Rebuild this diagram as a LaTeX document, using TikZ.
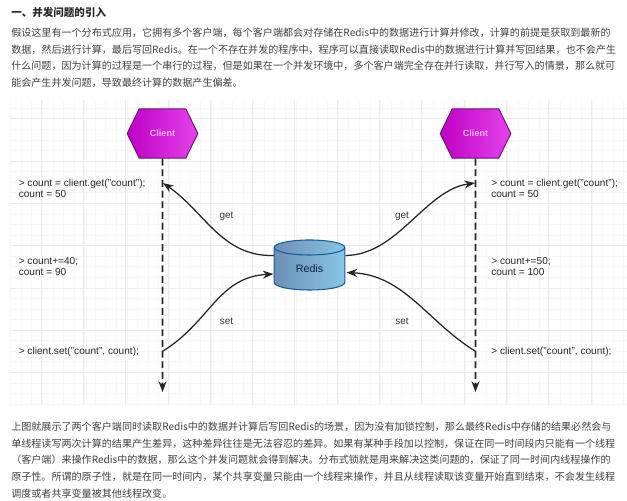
\documentclass[tikz,border=0pt]{standalone}
\usepackage{fontspec}
\usepackage{xcolor}
\usetikzlibrary{arrows.meta,shapes.geometric,shapes.symbols}
\setmainfont{Liberation Sans}
\newfontfamily\cjk{Noto Sans CJK SC}

\definecolor{gridminor}{HTML}{F7F7F7}
\definecolor{gridmajor}{HTML}{ECECEC}
\definecolor{bodytext}{HTML}{404040}
\definecolor{hexleft}{HTML}{BE00C4}
\definecolor{hexright}{HTML}{E444EA}
\definecolor{hexline}{HTML}{6E1076}
\definecolor{hextext}{HTML}{F4B8F8}
\definecolor{dbleft}{HTML}{6C8FB6}
\definecolor{dbright}{HTML}{88C6E6}
\definecolor{dbline}{HTML}{1C5C9E}
\definecolor{dbtext}{HTML}{14253C}

\tikzset{
  para/.style={anchor=north west, inner sep=0pt, align=left, text=bodytext, font=\cjk\fontsize{7.55}{12.55}\selectfont},
  client/.style={shape=signal, signal to=west and east, signal pointer angle=128, draw=hexline, line width=0.7pt,
    left color=hexleft, right color=hexright, minimum width=53pt, minimum height=37pt, inner sep=0pt,
    text=hextext, font=\bfseries\fontsize{6.8}{9}\selectfont},
  store/.style={shape=cylinder, shape border rotate=90, aspect=0.55, draw=dbline, line width=0.8pt,
    left color=dbleft, right color=dbright, minimum width=53pt, minimum height=37.5pt, inner sep=0pt,
    font=\fontsize{8}{9}\selectfont, text=dbtext},
  code/.style={anchor=west, inner sep=0pt, align=left, text=black!85, font=\fontsize{7.6}{8.4}\selectfont},
  lbl/.style={inner sep=0pt, text=black!80, font=\fontsize{7.5}{9}\selectfont},
  life/.style={dashed, dash pattern=on 5.2pt off 2.8pt, line width=1.2pt, black!85, -{Stealth[length=8pt,width=6pt]}},
  link/.style={line width=0.95pt, black!85, -{Stealth[length=8pt,width=6pt]}}
}

\begin{document}
\begin{tikzpicture}[x=0.75pt,y=-0.75pt]
\useasboundingbox (0,0) rectangle (627,500);

% grid
\foreach \i in {0,...,58} {
  \draw[gridminor, line width=0.4pt] (10.5+\i*10.57,100) -- (10.5+\i*10.57,405);
}
\foreach \i in {1,...,29} {
  \draw[gridminor, line width=0.4pt] (10,97.5+\i*10.57) -- (627,97.5+\i*10.57);
}
\foreach \i in {0,...,14} {
  \draw[gridmajor, line width=0.5pt] (41+\i*42.3,100) -- (41+\i*42.3,405);
}
\foreach \i in {0,...,6} {
  \draw[gridmajor, line width=0.5pt] (10,118.7+\i*42.3) -- (627,118.7+\i*42.3);
}

% text above
\node (head) at (11,7) [para, font=\cjk\bfseries\fontsize{7.9}{12}\selectfont, text=black!85]{一、并发问题的引入};
\node (intro) at (11,27.5) [para]{假设这里有一个分布式应用，它拥有多个客户端，每个客户端都会对存储在Redis中的数据进行计算并修改，计算的前提是获取到最新的\\
数据，然后进行计算，最后写回Redis。在一个不存在并发的程序中，程序可以直接读取Redis中的数据进行计算并写回结果，也不会产生\\
什么问题，因为计算的过程是一个串行的过程，但是如果在一个并发环境中，多个客户端完全存在并行读取，并行写入的情景，那么就可\\
能会产生并发问题，导致最终计算的数据产生偏差。};

% nodes
\node (c1) at (162.5,133.5) [client]{Client};
\node (c2) at (475.5,133.5) [client]{Client};
\node (redis) at (309.5,269) [store]{Redis};

\coordinate (e1) at (162.5,392);
\coordinate (e2) at (475.5,392);
\coordinate (g1) at (163,183);
\coordinate (g2) at (475,183);
\coordinate (s1) at (163,351);
\coordinate (s2) at (475,351);
\coordinate (r1) at (274,255.5);
\coordinate (r2) at (345.5,255.5);
\coordinate (r3) at (273.5,274);
\coordinate (r4) at (346.5,272.5);

\draw[life] (c1) -- (e1);
\draw[life] (c2) -- (e2);

\draw[link] (r1) .. controls (222,257) and (205,212) .. (g1);
\draw[link] (r2) .. controls (398,255) and (425,190) .. (g2);
\draw[link] (s1) .. controls (210,322) and (218,277) .. (r3);
\draw[link] (s2) .. controls (428,322) and (404,275) .. (r4);

\node (get1) at (226.5,216) [lbl]{get};
\node (get2) at (402,216) [lbl]{get};
\node (set1) at (226.5,321) [lbl]{set};
\node (set2) at (402,321) [lbl]{set};

% code at the left
\node (a1) at (18.5,188) [code]{> count = client.get("count");\\count = 50};
\node (a2) at (18.5,266.5) [code]{> count+=40;\\count = 90};
\node (a3) at (18.5,351.5) [code]{> client.set("count", count);};

% code at the right
\node (b1) at (491,188) [code]{> count = client.get("count");\\count = 50};
\node (b2) at (491,266.5) [code]{> count+=50;\\count = 100};
\node (b3) at (491,351.5) [code]{> client.set("count", count);};

% text below
\node (outro) at (11,421.5) [para]{上图就展示了两个客户端同时读取Redis中的数据并计算后写回Redis的场景，因为没有加锁控制，那么最终Redis中存储的结果必然会与\\
单线程读写两次计算的结果产生差异，这种差异往往是无法容忍的差异。如果有某种手段加以控制，保证在同一时间段内只能有一个线程\\
（客户端）来操作Redis中的数据，那么这个并发问题就会得到解决。分布式锁就是用来解决这类问题的，保证了同一时间内线程操作的\\
原子性。所谓的原子性，就是在同一时间内，某个共享变量只能由一个线程来操作，并且从线程读取该变量开始直到结束，不会发生线程\\
调度或者共享变量被其他线程改变。};
\end{tikzpicture}
\end{document}
